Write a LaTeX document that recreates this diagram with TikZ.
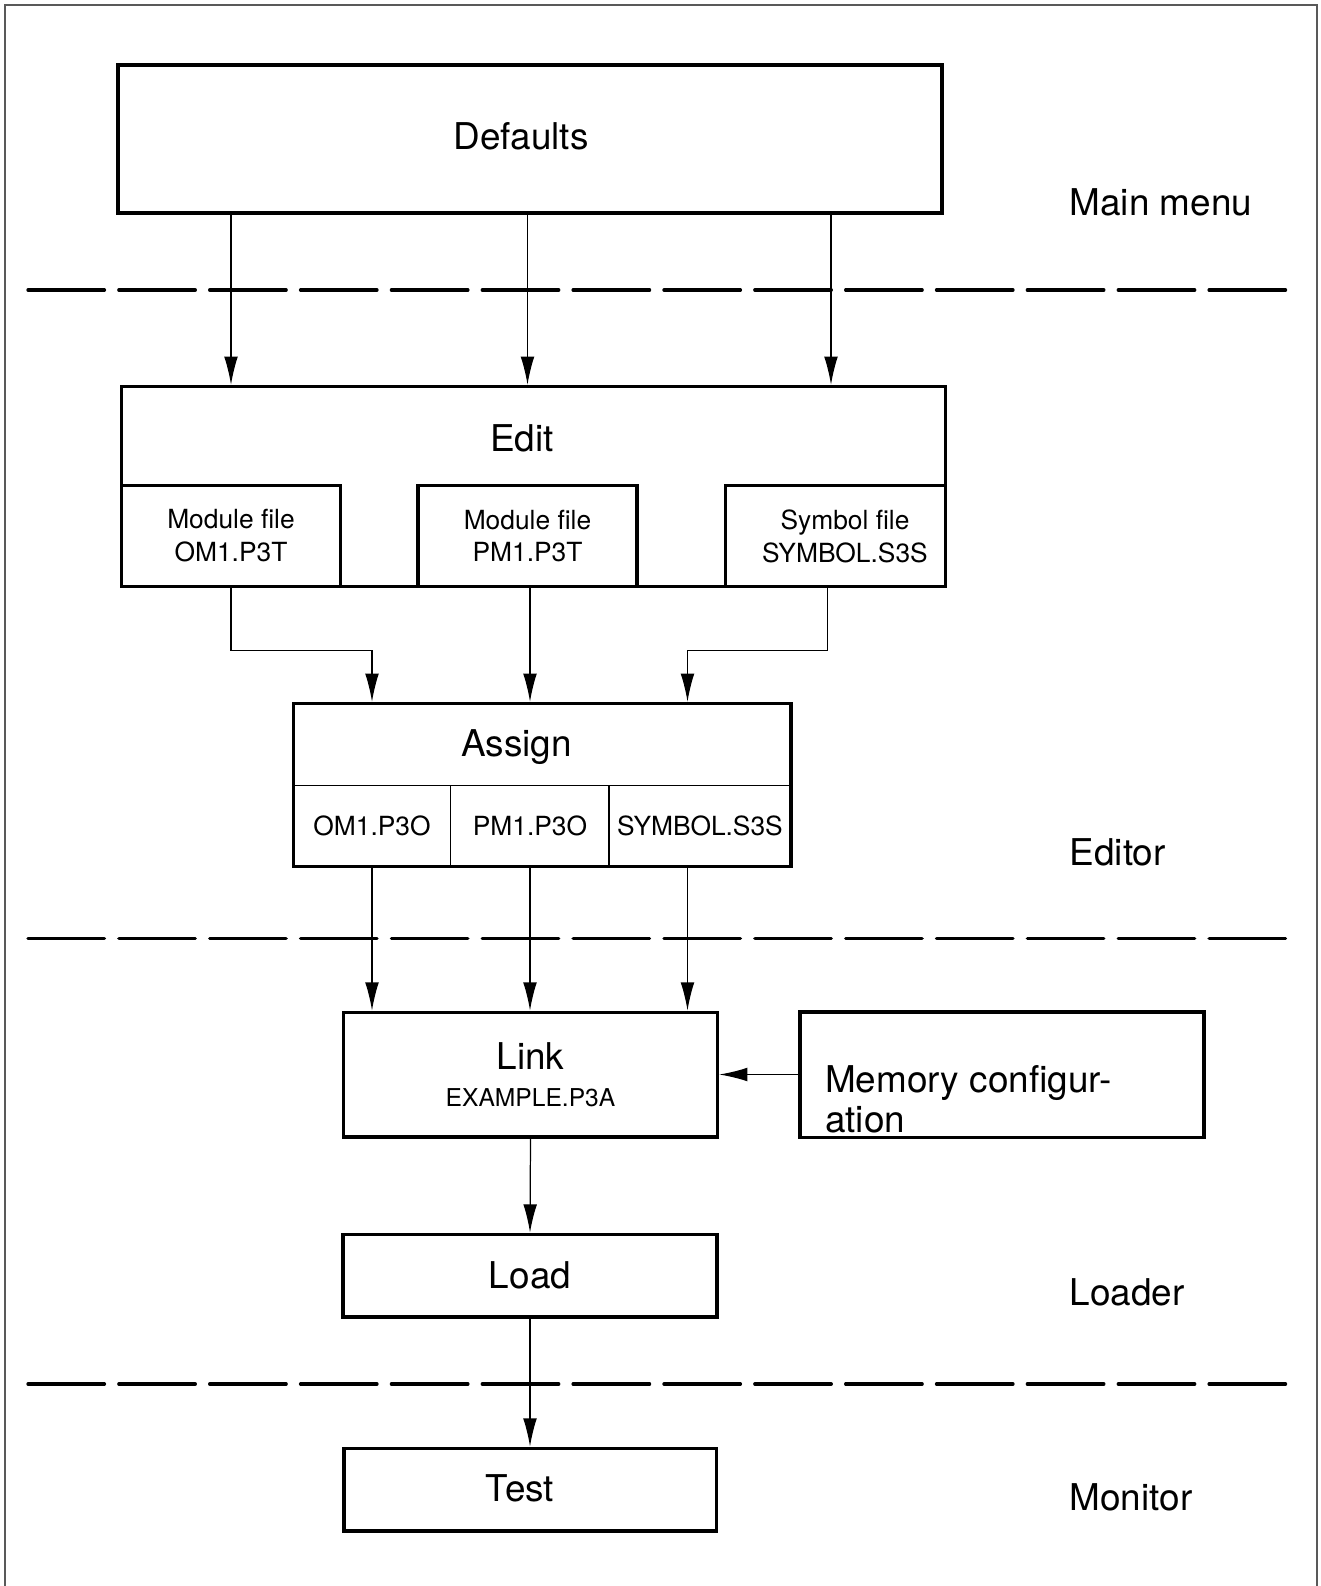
\documentclass[tikz,border=0pt]{standalone}
\usepackage{fontspec}
\setmainfont{TeX Gyre Heros}
\usetikzlibrary{arrows.meta, calc}
\tikzset{
	box/.style={draw, line width=2.0pt, inner sep=0pt},
	cell/.style={draw, line width=0.6pt, inner sep=0pt},
	flow/.style={-{Latex[length=16pt, width=7.8pt]}, line width=0.7pt},
	levelline/.style={line width=1.9pt, line cap=round, dash pattern=on 43.5pt off 8.2pt},
	bigtxt/.style={font=\fontsize{21}{25}\selectfont},
	smalltxt/.style={font=\fontsize{15}{18.7}\selectfont, align=center},
}

\begin{document}
\begin{tikzpicture}
			\useasboundingbox (0,0) rectangle (26.42,-31.72);
			\draw[black!65, line width=0.8pt] (0.10,-31.72) -- (0.10,-0.10) -- (26.34,-0.10) -- (26.34,-31.72);
			% main menu
			\node[box, minimum width=16.48cm, minimum height=2.96cm] (dflt) at (10.60,-2.78) {};
			\node[bigtxt] (dflttxt) at (10.42,-2.72) {Defaults};
			\node[bigtxt, anchor=base west] (mainlbl) at (21.27,-4.30) {Main menu};
			\draw[levelline] (0.56,-5.80) -- (25.84,-5.80);
			% editor
			\node[box, minimum width=16.48cm, minimum height=4.00cm] (edit) at (10.67,-9.73) {};
			\node[bigtxt] (edittxt) at (10.44,-8.76) {Edit};
			\node[box, smalltxt, minimum width=4.38cm, minimum height=2.02cm] (om) at (4.62,-10.72) {Module file\\OM1.P3T};
			\node[box, smalltxt, minimum width=4.37cm, minimum height=2.02cm] (pm) at (10.55,-10.72) {Module file\\PM1.P3T};
			\node[box, smalltxt, minimum width=4.40cm, minimum height=2.02cm] (sym) at (16.71,-10.72) {\hspace*{0.38cm}Symbol file\\\hspace*{0.38cm}SYMBOL.S3S};
			\draw[flow] (dflt.south -| om.north) -- (edit.north -| om.north);
			\draw[flow] (dflt.south -| pm.north) -- (edit.north -| pm.north);
			\draw[flow] ($(dflt.south -| sym.north)+(-0.09,0)$) -- ($(edit.north -| sym.north)+(-0.09,0)$);
			\node[cell, smalltxt, minimum width=3.14cm, minimum height=1.63cm] (ao) at (7.44,-16.52) {OM1.P3O};
			\node[cell, smalltxt, minimum width=3.17cm, minimum height=1.63cm] (ap) at (10.60,-16.52) {PM1.P3O};
			\node[cell, smalltxt, minimum width=3.64cm, minimum height=1.63cm] (as) at (14.00,-16.52) {SYMBOL.S3S};
			\node[box, minimum width=9.95cm, minimum height=3.26cm] (assign) at (10.845,-15.70) {};
			\node[bigtxt] (assigntxt) at (10.33,-14.94) {Assign};
			\draw[flow] (om.south) -- ++(0,-1.24) -| (ao.north |- assign.north);
			\draw[flow] (ap |- pm.south) -- (ap |- assign.north);
			\draw[flow] ($(sym.south)+(-0.16,0)$) -- ++(0,-1.24) -| ($(as.north |- assign.north)+(-0.25,0)$);
			\node[bigtxt, anchor=base west] (editorlbl) at (21.27,-17.30) {Editor};
			\draw[levelline] (0.56,-18.77) -- (25.84,-18.77);
			% linker
			\node[box, bigtxt, align=center, minimum width=7.48cm, minimum height=2.49cm] (link) at (10.61,-21.49) {Link\\[-4pt]{\fontsize{14}{17}\selectfont EXAMPLE.P3A}};
			\node[box, minimum width=8.08cm, minimum height=2.51cm] (mem) at (20.04,-21.49) {};
			\node[align=left, anchor=base west, font=\fontsize{21}{22.7}\selectfont] (memtxt) at (16.38,-22.65) {Memory configur-\\ation};
			\draw[flow] (ao.south |- assign.south) -- (ao.south |- link.north);
			\draw[flow] (ap.south |- assign.south) -- (ap.south |- link.north);
			\draw[flow] ($(as.south |- assign.south)+(-0.25,0)$) -- ($(as.south |- link.north)+(-0.25,0)$);
			\draw[flow] (mem.west) -- (link.east);
			% loader
			\node[box, bigtxt, minimum width=7.47cm, minimum height=1.65cm] (load) at (10.60,-25.51) {Load};
			\draw[flow] (link.south) -- (load.north);
			\node[bigtxt, anchor=base west] (loaderlbl) at (21.27,-26.10) {Loader};
			\draw[levelline] (0.56,-27.68) -- (25.84,-27.68);
			% monitor
			\node[box, minimum width=7.45cm, minimum height=1.65cm] (test) at (10.60,-29.79) {};
			\node[bigtxt] (testtxt) at (10.40,-29.76) {Test};
			\draw[flow] (load.south) -- (test.north);
			\node[bigtxt, anchor=base west] (monlbl) at (21.27,-30.20) {Monitor};
		\end{tikzpicture}
\end{document}
